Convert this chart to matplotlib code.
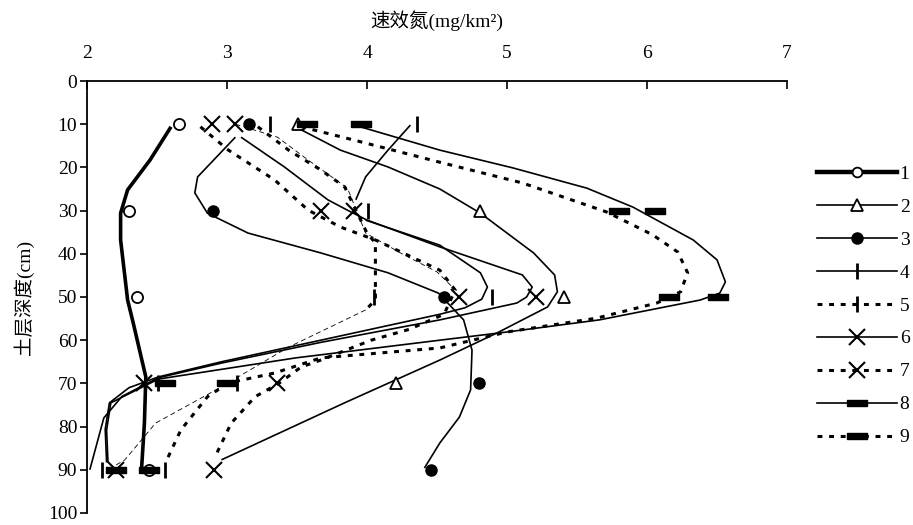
import numpy as np
import matplotlib
matplotlib.use("Agg")
import matplotlib.pyplot as plt
from matplotlib.lines import Line2D

plt.rcParams['font.family'] = ['Liberation Serif', 'Noto Sans CJK SC']

# measured depths (cm) and marker values for each profile
depth = [10, 30, 50, 70, 90]
nan = np.nan
s1_pts = [2.66, 2.30, 2.36, nan, 2.44]
s2_pts = [3.51, 4.81, 5.41, 4.21, nan]
s3_pts = [3.16, 2.90, 4.55, 4.80, 4.46]
s4_pts = [4.36, 4.01, 4.89, 3.07, 2.56]
s5_pts = [3.31, nan, 4.05, 2.51, 2.11]
s6_pts = [3.06, 3.91, 5.21, 2.41, 2.21]
s7_pts = [2.89, 3.67, 4.66, 3.36, 2.91]
s8_pts = [3.96, 6.06, 6.51, 2.56, 2.21]
s9_pts = [3.57, 5.80, 6.16, 3.00, 2.44]

# curves: (value, depth)
s1_line = [(2.60, 10.6), (2.45, 18.3), (2.29, 25.2), (2.24, 30.6), (2.24, 36.8), (2.29, 50.7),
           (2.33, 56.0), (2.42, 68.5), (2.41, 79.2), (2.39, 89.6)]
s2_line = [(3.53, 11.3), (3.81, 16.0), (4.15, 19.9), (4.52, 25.0), (4.81, 30.6), (5.19, 39.8),
           (5.34, 44.9), (5.36, 48.8), (5.29, 52.3), (5.11, 55.3), (4.93, 58.3), (4.52, 64.6),
           (3.84, 74.5), (2.96, 87.7)]
s3_line = [(3.06, 13.0), (2.79, 22.2), (2.77, 25.9), (2.86, 30.6), (3.15, 35.2), (3.67, 39.8),
           (4.15, 44.4), (4.51, 49.1), (4.69, 55.3), (4.75, 62.3), (4.74, 71.5), (4.66, 77.8),
           (4.52, 83.8), (4.41, 89.6)]
s4_line = [(4.31, 10.2), (4.15, 16.0), (3.99, 22.2), (3.92, 27.5)]
s4_line2 = [(3.99, 32.2), (4.52, 38.0), (4.81, 44.4), (4.86, 47.7), (4.82, 50.5), (4.70, 52.5),
            (4.52, 54.0), (3.67, 60.0), (2.96, 65.0), (2.51, 68.5), (2.30, 71.0), (2.16, 74.5),
            (2.13, 80.6), (2.14, 88.3)]
s5_line = [(3.22, 10.6), (3.44, 16.0), (3.67, 20.6), (3.84, 24.5), (4.00, 35.2), (4.06, 37.5),
           (4.06, 50.7), (3.99, 53.0)]
s5_tail = [(3.99, 53.0), (3.44, 61.6), (2.96, 70.8), (2.49, 79.2), (2.27, 87.7), (2.15, 90.0)]
s6_line = [(3.10, 13.0), (3.41, 19.9), (3.72, 27.5), (3.86, 29.9), (4.00, 32.2), (4.52, 38.4),
           (5.11, 44.9), (5.18, 47.7), (5.14, 50.0), (5.07, 51.4), (4.52, 55.3), (3.67, 60.5),
           (2.96, 65.3), (2.51, 68.7), (2.25, 73.0), (2.12, 78.0), (2.02, 90.0)]
s7_line = [(2.81, 10.6), (3.01, 16.0), (3.34, 22.9), (3.58, 29.9), (3.81, 33.8), (4.06, 36.8),
           (4.52, 43.8), (4.63, 48.4), (4.55, 54.0), (4.30, 57.5), (4.03, 60.0), (3.67, 64.6),
           (3.53, 66.2), (3.37, 70.0), (3.20, 73.1), (3.03, 79.2), (2.91, 87.3)]
s7_thin = [(3.06, 10.0), (3.36, 13.0), (3.58, 18.3), (3.86, 24.8), (3.99, 35.2), (4.25, 40.0),
           (4.50, 44.2), (4.62, 48.0)]
s8_line = [(3.91, 10.2), (4.52, 16.0), (5.04, 20.1), (5.57, 24.8), (5.90, 29.2), (6.33, 36.8),
           (6.50, 41.4), (6.56, 46.5), (6.52, 49.1), (6.38, 50.7), (5.66, 55.3), (5.00, 58.1),
           (4.52, 60.0), (3.49, 64.1), (2.51, 69.0), (2.17, 74.5), (2.14, 80.8), (2.15, 88.4)]
s9_line = [(3.53, 10.6), (3.91, 13.7), (4.52, 18.8), (5.11, 23.6), (5.71, 30.3), (6.04, 35.6),
           (6.22, 39.6), (6.29, 44.4), (6.24, 48.8), (6.07, 51.4), (5.64, 54.9), (5.00, 58.1),
           (4.52, 61.8), (3.67, 64.1), (3.34, 67.6), (3.01, 69.9), (2.86, 73.1), (2.67, 80.8),
           (2.56, 88.4)]

labels = ['1', '2', '3', '4', '5', '6', '7', '8', '9']

bar = [(-1, -0.32), (1, -0.32), (1, 0.32), (-1, 0.32), (-1, -0.32)]
dots = (0, (1.6, 2.2))

fig = plt.figure(figsize=(9.13, 5.25), dpi=100)
ax = fig.add_axes([0.0953, 0.0229, 0.7667, 0.8228])


def draw(line, **kw):
    a = np.array(line)
    ax.plot(a[:, 0], a[:, 1], color='black', solid_capstyle='butt', dash_capstyle='butt', **kw)


draw(s1_line, lw=2.6)
draw(s2_line, lw=1.2)
draw(s3_line, lw=1.2)
draw(s4_line, lw=1.2)
draw(s4_line2, lw=1.2)
draw(s5_line, lw=2.2, linestyle=dots)
draw(s5_tail, lw=0.6, linestyle=(0, (6, 4)))
draw(s6_line, lw=1.2)
draw(s7_line, lw=2.2, linestyle=dots)
draw(s7_thin, lw=0.6, linestyle=(0, (6, 4)))
draw(s8_line, lw=1.2)
draw(s9_line, lw=2.2, linestyle=dots)

mk = dict(color='black', linestyle='none')
ax.plot(s1_pts, depth, marker='o', ms=8, mfc='white', mec='black', mew=1.3, **mk)
ax.plot(s2_pts, depth, marker='^', ms=9, mfc='white', mec='black', mew=1.3, **mk)
ax.plot(s3_pts, depth, marker='o', ms=8, mfc='black', mec='black', **mk)
ax.plot(s4_pts, depth, marker='|', ms=12, mew=2, **mk)
ax.plot(s5_pts, depth, marker='|', ms=12, mew=2, **mk)
ax.plot(s6_pts, depth, marker='x', ms=11, mew=1.5, **mk)
ax.plot(s7_pts, depth, marker='x', ms=11, mew=1.5, **mk)
ax.plot(s8_pts, depth, marker=bar, ms=14, mfc='black', mec='black', **mk)
ax.plot(s9_pts, depth, marker=bar, ms=14, mfc='black', mec='black', **mk)

ax.set_xlim(2, 7)
ax.set_ylim(100, 0)
ax.set_xticks([2, 3, 4, 5, 6, 7])
ax.set_yticks(np.arange(0, 101, 10))
ax.xaxis.tick_top()
ax.tick_params(axis='x', direction='in', length=6, width=1.2, pad=14, labelsize=14)
ax.tick_params(axis='y', direction='out', length=5, width=1.2, pad=2, labelsize=14)
for s in ['right', 'bottom']:
    ax.spines[s].set_visible(False)
for s in ['top', 'left']:
    ax.spines[s].set_linewidth(1.3)
ax.set_xlabel('速效氮(mg/km²)', fontsize=14, labelpad=13)
ax.xaxis.set_label_position('top')
ax.set_ylabel('土层深度(cm)', fontsize=14, labelpad=10)

handles = [
    Line2D([], [], color='black', lw=3.2, marker='o', ms=7, mfc='white', mec='black', mew=1.3),
    Line2D([], [], color='black', lw=1.2, marker='^', ms=8, mfc='white', mec='black', mew=1.3),
    Line2D([], [], color='black', lw=1.2, marker='o', ms=8, mfc='black'),
    Line2D([], [], color='black', lw=1.2, marker='|', ms=12, mew=2),
    Line2D([], [], color='black', lw=2.2, linestyle=dots, marker='|', ms=12, mew=2),
    Line2D([], [], color='black', lw=1.2, marker='x', ms=11, mew=1.5),
    Line2D([], [], color='black', lw=2.2, linestyle=dots, marker='x', ms=11, mew=1.5),
    Line2D([], [], color='black', lw=1.2, marker=bar, ms=14, mfc='black'),
    Line2D([], [], color='black', lw=2.2, linestyle=dots, marker=bar, ms=14, mfc='black'),
]
fig.legend(handles, labels, loc='upper left', bbox_to_anchor=(0.8949, 0.6857), frameon=False,
           fontsize=14, handlelength=4.1, handletextpad=0.15, labelspacing=0.79,
           borderpad=0, borderaxespad=0)

fig.savefig('out.png', dpi=100)
